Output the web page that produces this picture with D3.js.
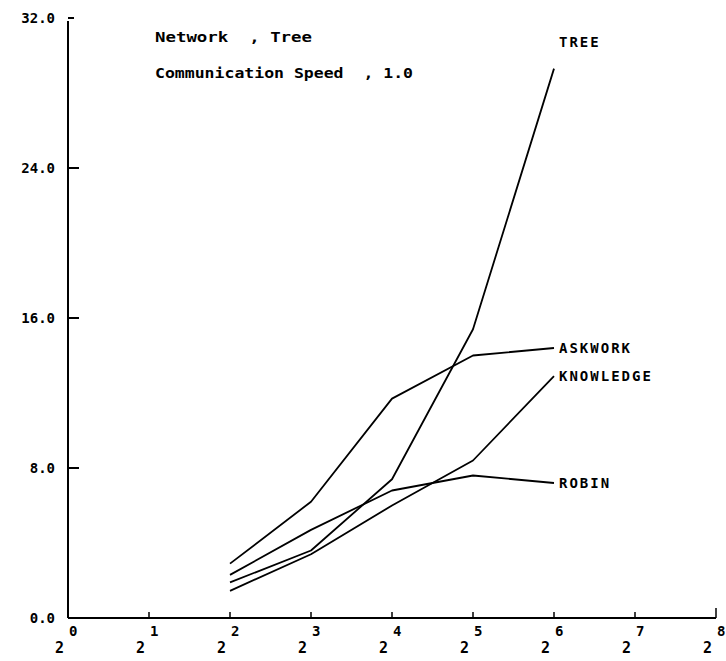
<!DOCTYPE html>
<html><head><meta charset="utf-8">
<script src="https://cdn.jsdelivr.net/npm/d3@7"></script>
<style>body{margin:0;background:#fff}svg{display:block}</style>
</head><body>
<svg id="c" width="726" height="661"></svg>
<script>
const xExponents = [2, 3, 4, 5, 6];
const treeVals = [1.9, 3.6, 7.4, 15.4, 29.3];
const askworkVals = [2.9, 6.2, 11.7, 14.0, 14.4];
const knowledgeVals = [1.45, 3.4, 6.0, 8.4, 12.9];
const robinVals = [2.3, 4.7, 6.8, 7.6, 7.2];
const seriesNames = ["TREE", "ASKWORK", "KNOWLEDGE", "ROBIN"];
const yTicks = [0, 8, 16, 24, 32];
const xTicks = [0, 1, 2, 3, 4, 5, 6, 7, 8];
const headerLines = ["Network  , Tree", "Communication Speed  , 1.0"];

const series = [
  {name: seriesNames[0], vals: treeVals},
  {name: seriesNames[1], vals: askworkVals},
  {name: seriesNames[2], vals: knowledgeVals},
  {name: seriesNames[3], vals: robinVals}
];

const svg = d3.select("#c");
const x = d3.scaleLinear().domain([0, 8]).range([68, 716]);
const y = d3.scaleLinear().domain([0, 32]).range([618, 18]);
const font = "'DejaVu Sans Mono', monospace";

// axes
svg.append("line").attr("x1", x(0)).attr("x2", x(8)).attr("y1", y(0)).attr("y2", y(0))
  .attr("stroke", "#000").attr("stroke-width", 2);
svg.append("line").attr("x1", x(0)).attr("x2", x(0)).attr("y1", y(0)).attr("y2", y(32) + 3)
  .attr("stroke", "#000").attr("stroke-width", 2);

// y ticks
yTicks.forEach(v => {
  if (v > 0) {
    svg.append("line").attr("x1", x(0)).attr("x2", x(0) + (v === 32 ? 6 : 11))
      .attr("y1", y(v)).attr("y2", y(v)).attr("stroke", "#000").attr("stroke-width", 2);
  }
  svg.append("text").attr("x", 55).attr("y", y(v) + 5).attr("text-anchor", "end")
    .attr("font-family", font).attr("font-weight", "bold").attr("font-size", 14)
    .text(d3.format(".1f")(v));
});

// x ticks
xTicks.forEach(k => {
  if (k > 0) {
    svg.append("line").attr("x1", x(k)).attr("x2", x(k)).attr("y1", y(0)).attr("y2", y(0) - (k === 8 ? 10 : 6))
      .attr("stroke", "#000").attr("stroke-width", 1.5);
  }
  svg.append("text").attr("font-family", font).attr("font-weight", "bold")
    .attr("x", x(k) - 4).attr("y", 653).attr("text-anchor", "end").attr("font-size", 15).text("2");
  svg.append("text").attr("font-family", font).attr("font-weight", "bold").attr("font-size", 14)
    .attr("x", x(k) + 1).attr("y", 636).text(k);
});

// lines
const line = d3.line().x((d, i) => x(xExponents[i])).y(d => y(d));
series.forEach(s => {
  svg.append("path").attr("d", line(s.vals)).attr("fill", "none")
    .attr("stroke", "#000").attr("stroke-width", 1.8).attr("stroke-linejoin", "round");
  const last = s.vals[s.vals.length - 1];
  const dy = s.name === "TREE" ? -22 : 5;
  svg.append("text").attr("x", x(6) + 5).attr("y", y(last) + dy)
    .attr("font-family", font).attr("font-size", 14).attr("font-weight", "bold")
    .attr("letter-spacing", 2).text(s.name);
});

// header
svg.append("text").attr("x", 155).attr("y", 42).attr("font-family", font).attr("font-size", 14)
  .attr("font-weight", "bold").attr("textLength", 157).attr("lengthAdjust", "spacingAndGlyphs")
  .attr("xml:space", "preserve").text(headerLines[0]);
svg.append("text").attr("x", 155).attr("y", 78).attr("font-family", font).attr("font-size", 14)
  .attr("font-weight", "bold").attr("textLength", 258).attr("lengthAdjust", "spacingAndGlyphs")
  .attr("xml:space", "preserve").text(headerLines[1]);
</script>
</body></html>
